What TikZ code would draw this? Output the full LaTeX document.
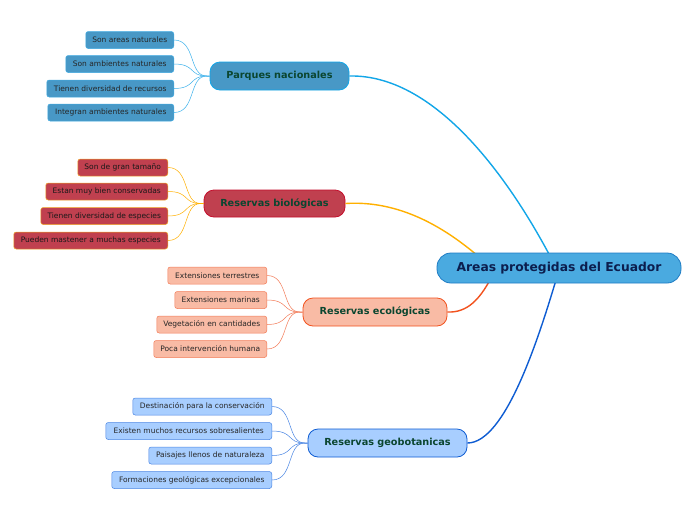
\documentclass[tikz,border=0pt]{standalone}
\usepackage{fontspec}
\setmainfont{DejaVu Sans}
\begin{document}
\begin{tikzpicture}[x=1pt,y=-1pt,
  central/.style={draw=c0b,fill=c0f,line width=0.8pt,rounded corners=14pt,inner sep=0pt,
    text=c0t,font=\fontsize{12.3}{14}\selectfont\bfseries},
  branch/.style={line width=0.8pt,rounded corners=10pt,inner sep=0pt,
    text=brt,font=\fontsize{9.7}{11}\selectfont\bfseries},
  leaf/.style={line width=0.5pt,rounded corners=2.5pt,inner sep=0pt,anchor=east,
    font=\fontsize{7.5}{8.5}\selectfont,minimum height=17pt},
  link/.style={line width=0.5pt},
  mainlink/.style={line width=1.4pt}]
\definecolor{c0b}{HTML}{1E7CC4}
\definecolor{c0f}{HTML}{4AAAE0}
\definecolor{c0t}{HTML}{0C1E4E}
\definecolor{brt}{HTML}{0B4630}
\definecolor{pnf}{HTML}{4898C6}
\definecolor{pnb}{HTML}{12A6E8}
\definecolor{pnl}{HTML}{3CB2EC}
\definecolor{rbf}{HTML}{C0404F}
\definecolor{rbb}{HTML}{C40E2C}
\definecolor{rbl}{HTML}{F0A426}
\definecolor{rbc}{HTML}{FFB000}
\definecolor{ref}{HTML}{F9BBA5}
\definecolor{reb}{HTML}{F2521E}
\definecolor{rel}{HTML}{F37C58}
\definecolor{rgf}{HTML}{A8CEFF}
\definecolor{rgb}{HTML}{0E5CD2}
\definecolor{rgl}{HTML}{4A86E4}
\useasboundingbox (0,0) rectangle (696,520);
\fill[white] (0,0) rectangle (696,520);

% branches
\node[branch,draw=pnb,fill=pnf,minimum width=139pt,minimum height=28pt] (pn) at (279.5,76) {Parques nacionales};
\node[branch,draw=rbb,fill=rbf,minimum width=141pt,minimum height=27pt] (rb) at (274.5,203.5) {Reservas biológicas};
\node[branch,draw=reb,fill=ref,minimum width=144pt,minimum height=28pt] (re) at (375,312) {Reservas ecológicas};
\node[branch,draw=rgb,fill=rgf,minimum width=159pt,minimum height=28pt] (rg) at (387.5,443) {Reservas geobotanicas};

% leaves
\begin{scope}[every node/.style={leaf,draw=pnl!70!pnf,fill=pnf,text=black!85}]
\node[minimum width=88pt] (pn1) at (174,40) {Son areas naturales};
\node[minimum width=108pt] (pn2) at (174,64) {Son ambientes naturales};
\node[minimum width=127pt] (pn3) at (174,88.5) {Tienen diversidad de recursos};
\node[minimum width=126pt] (pn4) at (174,112.5) {Integran ambientes naturales};
\end{scope}
\begin{scope}[every node/.style={leaf,draw=rbl,fill=rbf,text=black!90}]
\node[minimum width=90pt] (rb1) at (168,167.5) {Son de gran tamaño};
\node[minimum width=122pt] (rb2) at (168,191.5) {Estan muy bien conservadas};
\node[minimum width=127pt] (rb3) at (168,216) {Tienen diversidad de especies};
\node[minimum width=154pt] (rb4) at (168,240.5) {Pueden mastener a muchas especies};
\end{scope}
\begin{scope}[every node/.style={leaf,draw=rel,fill=ref,text=black!85}]
\node[minimum width=99pt] (re1) at (267,275.5) {Extensiones terrestres};
\node[minimum width=92pt] (re2) at (267,300) {Extensiones marinas};
\node[minimum width=110pt] (re3) at (267,324.5) {Vegetación en cantidades};
\node[minimum width=113pt] (re4) at (267,349) {Poca intervención humana};
\end{scope}
\begin{scope}[every node/.style={leaf,draw=rgl,fill=rgf,text=black!85}]
\node[minimum width=139pt] (rg1) at (272,406.5) {Destinación para la conservación};
\node[minimum width=166pt] (rg2) at (272,431) {Existen muchos recursos sobresalientes};
\node[minimum width=123pt] (rg3) at (272,455.5) {Paisajes llenos de naturaleza};
\node[minimum width=160pt] (rg4) at (272,480) {Formaciones geológicas excepcionales};
\end{scope}

% leaf links
\foreach \i in {1,...,4}{
  \draw[link,pnl] (pn\i.east) .. controls +(22,0) and +(-18,0) .. ([xshift=-3pt]pn.west) -- (pn.west);
  \draw[link,rbc] (rb\i.east) .. controls +(22,0) and +(-18,0) .. ([xshift=-3pt]rb.west) -- (rb.west);
  \draw[link,rel] (re\i.east) .. controls +(22,0) and +(-18,0) .. ([xshift=-3pt]re.west) -- (re.west);
  \draw[link,rgl] (rg\i.east) .. controls +(22,0) and +(-18,0) .. ([xshift=-3pt]rg.west) -- (rg.west);
}

% central
\coordinate (k1) at (550,256);
\coordinate (k2) at (478,256);
\coordinate (k3) at (490,280);
\coordinate (k4) at (556,280);
\draw[mainlink,pnb] (pn.east) .. controls (440,74) and (515,190) .. (k1);
\draw[mainlink,rbc] (rb.east) .. controls (400,200) and (445,228) .. (k2);
\draw[mainlink,reb] (re.east) .. controls (468,313) and (480,298) .. (k3);
\draw[mainlink,rgb] (rg.east) .. controls (505,443) and (538,340) .. (k4);
\node[central,minimum width=244pt,minimum height=30pt] (c0) at (559,268) {Areas protegidas del Ecuador};
\end{tikzpicture}
\end{document}
